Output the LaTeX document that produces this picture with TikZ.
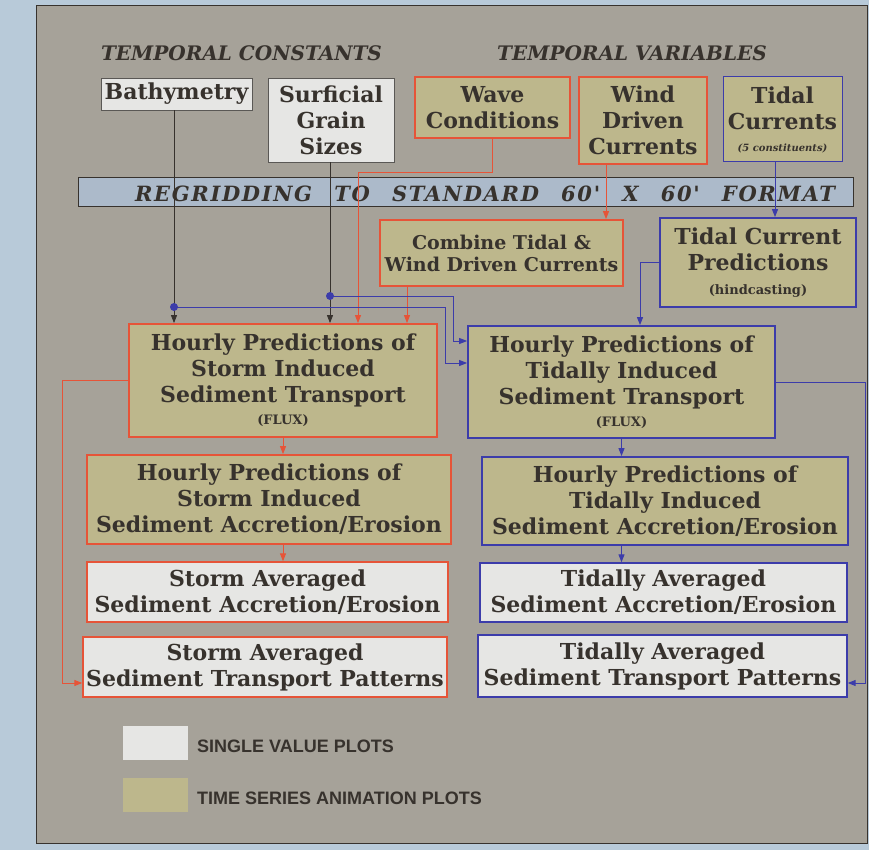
\documentclass[tikz,border=0pt]{standalone}
\usepackage{fontspec}
\setmainfont{DejaVu Serif}
\newfontfamily\legendfont{Liberation Sans}
\newfontfamily\gridface[LetterSpace=8]{DejaVu Serif}
\usetikzlibrary{arrows.meta}

\definecolor{bgblue}{RGB}{184,202,217}
\definecolor{panelgray}{RGB}{166,162,153}
\definecolor{plotolive}{RGB}{189,183,140}
\definecolor{boxwhite}{RGB}{230,230,228}
\definecolor{regridblue}{RGB}{172,186,202}
\definecolor{stormred}{RGB}{230,84,56}
\definecolor{tideblue}{RGB}{60,60,170}
\definecolor{inkdark}{RGB}{55,50,45}
\definecolor{edgegray}{RGB}{90,88,85}

\newcommand{\platefont}{\fontsize{22}{26}\selectfont\bfseries}
\newcommand{\headingfont}{\fontsize{20}{24}\selectfont\bfseries\itshape}
\newcommand{\gridfont}{\gridface\fontsize{21}{24}\selectfont\bfseries\itshape}
\newcommand{\notefont}{\fontsize{13}{16}\selectfont\bfseries}
\newcommand{\tinynote}{\fontsize{10}{12}\selectfont\bfseries\itshape}

\begin{document}
\begin{tikzpicture}[x=1pt,y=1pt,yscale=-1,xscale=1,
  plate/.style={inner sep=0pt, align=center, text=inkdark, font=\platefont},
  whitebox/.style={plate, fill=boxwhite, draw=edgegray, line width=0.8pt},
  stormbox/.style={plate, fill=plotolive, draw=stormred, line width=1.8pt},
  tidebox/.style={plate, fill=plotolive, draw=tideblue, line width=1.8pt},
  stormwhite/.style={plate, fill=boxwhite, draw=stormred, line width=1.4pt},
  tidewhite/.style={plate, fill=boxwhite, draw=tideblue, line width=1.4pt},
  regridbar/.style={fill=regridblue, draw=inkdark, line width=0.9pt, inner sep=0pt},
  heading/.style={text=inkdark, inner sep=0pt, font=\headingfont},
  legendtext/.style={text=inkdark, inner sep=0pt, anchor=west, font=\legendfont\bfseries\fontsize{18}{20}\selectfont},
  swatch/.style={minimum width=65pt, minimum height=34pt, inner sep=0pt},
  inkline/.style={draw=inkdark, line width=0.8pt},
  stormline/.style={draw=stormred, line width=1pt},
  tideline/.style={draw=tideblue, line width=1pt},
  flowtip/.style={-{Triangle[length=8pt,width=6pt]}},
]
%Shape: Rectangle
\fill[bgblue] (0,0) rectangle (869,850);
\useasboundingbox (0,0) rectangle (869,850);
%Shape: Rectangle
\draw[fill=panelgray, draw=inkdark, line width=1pt] (36,6) rectangle (867,843);

% Text Node
\node[heading] (hconst) at (241.5,53) {TEMPORAL CONSTANTS};
% Text Node
\node[heading] (hvar) at (632,53) {TEMPORAL VARIABLES};

%Shape: Rectangle
\node[whitebox, minimum width=151pt, minimum height=32pt] (bathy) at (176.5,94) {Bathymetry};
%Shape: Rectangle
\node[whitebox, minimum width=126pt, minimum height=84pt] (grain) at (331,120) {Surficial\\Grain\\Sizes};
%Shape: Rectangle
\node[stormbox, minimum width=155pt, minimum height=61pt] (wave) at (492.5,107.5) {Wave\\Conditions};
%Shape: Rectangle
\node[stormbox, minimum width=128pt, minimum height=87pt] (wind) at (643,120.5) {Wind\\Driven\\Currents};
%Shape: Rectangle
\node[tidebox, line width=1pt, minimum width=119pt, minimum height=85pt] (tide) at (782.5,119.5) {Tidal\\Currents\\[-4pt]{\tinynote (5 constituents)}};

%Shape: Rectangle
\node[regridbar, minimum width=775pt, minimum height=29pt] (regrid) at (465.5,191.5) {};
% Text Node
\node[heading, font=\gridfont] (regridtxt) at (485,194) {\makebox[700pt][s]{REGRIDDING TO STANDARD 60' X 60' FORMAT}};

%Shape: Rectangle
\node[stormbox, font=\fontsize{19}{22}\selectfont\bfseries, minimum width=243pt, minimum height=66pt] (comb) at (501.5,253) {Combine Tidal \&\\Wind Driven Currents};
%Shape: Rectangle
\node[tidebox, minimum width=196pt, minimum height=89pt] (pred) at (758,262.5) {Tidal Current\\Predictions\\[-2pt]{\notefont (hindcasting)}};

%Shape: Rectangle
\node[stormbox, minimum width=308pt, minimum height=113pt] (sflux) at (283,380.5) {Hourly Predictions of\\Storm Induced\\Sediment Transport\\[-4pt]{\notefont (FLUX)}};
%Shape: Rectangle
\node[tidebox, minimum width=307pt, minimum height=112pt] (tflux) at (621.5,382) {Hourly Predictions of\\Tidally Induced\\Sediment Transport\\[-4pt]{\notefont (FLUX)}};

%Shape: Rectangle
\node[stormbox, minimum width=364pt, minimum height=89pt] (sacc) at (269,499.5) {Hourly Predictions of\\Storm Induced\\Sediment Accretion/Erosion};
%Shape: Rectangle
\node[tidebox, minimum width=366pt, minimum height=88pt] (tacc) at (665,501) {Hourly Predictions of\\Tidally Induced\\Sediment Accretion/Erosion};

%Shape: Rectangle
\node[stormwhite, minimum width=361pt, minimum height=60pt] (savg) at (267.5,592) {Storm Averaged\\Sediment Accretion/Erosion};
%Shape: Rectangle
\node[tidewhite, minimum width=367pt, minimum height=59pt] (tavg) at (663.5,592.5) {Tidally Averaged\\Sediment Accretion/Erosion};

%Shape: Rectangle
\node[stormwhite, minimum width=364pt, minimum height=60pt] (spat) at (265,667) {Storm Averaged\\Sediment Transport Patterns};
%Shape: Rectangle
\node[tidewhite, minimum width=369pt, minimum height=62pt] (tpat) at (662.5,666) {Tidally Averaged\\Sediment Transport Patterns};

% legend
\node[swatch, fill=boxwhite] (swsingle) at (155.5,743) {};
\node[legendtext] (lsingle) at (197,746) {SINGLE VALUE PLOTS};
\node[swatch, fill=plotolive] (swseries) at (155.5,795) {};
\node[legendtext] (lseries) at (197,798) {TIME SERIES ANIMATION PLOTS};

% bends of the connectors
\coordinate (bdot) at (174,307);
\coordinate (gdot) at (330,296);
\coordinate (wavebend) at (358,173);
\coordinate (windx) at (606,170);
\coordinate (tidex) at (775,170);
\coordinate (combx) at (407,300);
\coordinate (gturn) at (453,341);
\coordinate (bturn) at (445,363);
\coordinate (predx) at (640,300);
\coordinate (sloop) at (62,683);
\coordinate (tloop) at (865,683);

%Straight Lines
\draw[inkline, flowtip] (bathy.south -| bdot) -- (bdot |- sflux.north);
\draw[inkline, flowtip] (grain.south -| gdot) -- (gdot |- sflux.north);
\draw[stormline, flowtip] (wave.south) |- (wavebend) -- (wavebend |- sflux.north);
\draw[stormline, flowtip] (wind.south -| windx) -- (comb.north -| windx);
\draw[tideline, flowtip] (tide.south -| tidex) -- (pred.north -| tidex);
\draw[stormline, flowtip] (comb.south -| combx) -- (sflux.north -| combx);
\draw[tideline, flowtip] (gdot) -| (gturn) -- (gturn -| tflux.west);
\draw[tideline, flowtip] (bdot) -| (bturn) -- (bturn -| tflux.west);
\draw[tideline, flowtip] (pred.west) -| (tflux.north -| predx);
\draw[stormline, flowtip] (sflux.west) -| (sloop) -- (sloop -| spat.west);
\draw[tideline, flowtip] (tflux.east) -| (tloop) -- (tloop -| tpat.east);
\draw[stormline, flowtip] (sflux.south) -- (sflux.south |- sacc.north);
\draw[stormline, flowtip] (sacc.south -| sflux.south) -- (savg.north -| sflux.south);
\draw[tideline, flowtip] (tflux.south) -- (tflux.south |- tacc.north);
\draw[tideline, flowtip] (tacc.south -| tflux.south) -- (tavg.north -| tflux.south);
%Shape: Circle
\fill[tideblue] (bdot) circle (4);
\fill[tideblue] (gdot) circle (4);

\end{tikzpicture}
\end{document}
